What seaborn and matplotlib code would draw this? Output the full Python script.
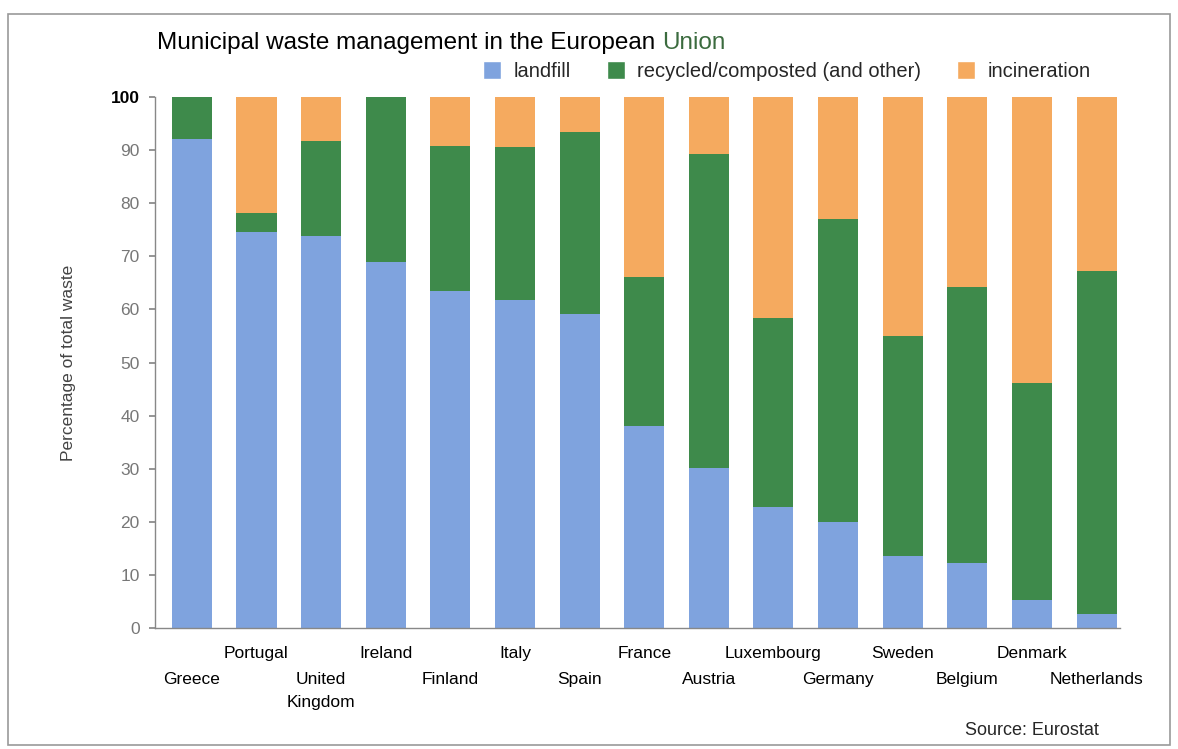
import numpy as np
import pandas as pd
import matplotlib
matplotlib.use("Agg")
import matplotlib.pyplot as plt
from matplotlib.patches import Patch, Rectangle
from matplotlib.transforms import offset_copy
import seaborn as sns

countries = ["Greece", "Portugal", "United\nKingdom", "Ireland", "Finland", "Italy", "Spain",
             "France", "Austria", "Luxembourg", "Germany", "Sweden", "Belgium", "Denmark",
             "Netherlands"]
landfill = [92.0, 74.5, 73.9, 68.9, 63.4, 61.7, 59.2, 38.0, 30.2, 22.8, 19.9, 13.5, 12.2, 5.3, 2.6]
recycled = [8.0, 3.6, 17.8, 31.1, 27.3, 28.8, 34.2, 28.1, 59.0, 35.6, 57.2, 41.4, 52.1, 40.8, 64.7]
incineration = [0.0, 21.9, 8.3, 0.0, 9.3, 9.5, 6.6, 33.9, 10.8, 41.6, 22.9, 45.1, 35.7, 53.9, 32.7]
series_names = ["landfill", "recycled/composted (and other)", "incineration"]
yticks = [0, 10, 20, 30, 40, 50, 60, 70, 80, 90, 100]

c_land = "#7fa3de"
c_rec = "#3e8a4b"
c_inc = "#f5aa5f"

sns.set_theme(style="white")
plt.rcParams["font.family"] = ["Liberation Sans", "DejaVu Sans"]

df = pd.DataFrame({"country": countries, "landfill": landfill,
                   "recycled": recycled, "incineration": incineration})
df["top_rec"] = df["landfill"] + df["recycled"]
df["total"] = df["top_rec"] + df["incineration"]

fig = plt.figure(figsize=(11.78, 7.49), dpi=100)
ax = fig.add_axes([0.1316, 0.1615, 0.819, 0.709])

w = 0.62
kw = dict(width=w, saturation=1, linewidth=0, edgecolor="none", ax=ax)
sns.barplot(data=df, x="country", y="total", color=c_inc, **kw)
sns.barplot(data=df, x="country", y="top_rec", color=c_rec, **kw)
sns.barplot(data=df, x="country", y="landfill", color=c_land, **kw)

n = len(countries)
ax.set_xlim(-0.57, n - 1 + 0.36)
ax.set_ylim(0, 100)
ax.set_yticks(yticks)
ax.set_yticklabels([str(v) for v in yticks], color="#777777", fontsize=12.5)
ax.get_yticklabels()[-1].set_color("black")
ax.get_yticklabels()[-1].set_fontweight("bold")

# upper row (odd index) as tick labels, lower row (even index) as offset texts
ax.set_xticks(range(n))
ax.set_xticklabels([c if i % 2 == 1 else "" for i, c in enumerate(countries)],
                   fontsize=12.5, color="black")
ax.tick_params(axis="x", which="major", length=0, pad=13)
lower_tr = offset_copy(ax.get_xaxis_transform(), fig=fig, x=0, y=-32, units="points")
for i, c in enumerate(countries):
    if i % 2 == 0:
        ax.text(i, 0, c, transform=lower_tr, ha="center", va="top", fontsize=12.5,
                color="black", linespacing=1.6)
ax.set_xticks(np.arange(0.5, n - 1, 1), minor=True)
ax.tick_params(axis="x", which="minor", length=4, color="#888888", direction="out")
ax.tick_params(axis="y", length=4, color="#888888", direction="out", left=True, pad=7)
ax.set_xlabel("")
ax.set_ylabel("Percentage of total waste", fontsize=12.5, color="#444444", labelpad=25)

for s in ["top", "right"]:
    ax.spines[s].set_visible(False)
for s in ["left", "bottom"]:
    ax.spines[s].set_color("#888888")
    ax.spines[s].set_linewidth(1)

title_y = 0.942
t = fig.text(0.1333, title_y, "Municipal waste management in the European ", fontsize=17.5,
             color="black", ha="left", va="center")
fig.canvas.draw()
bb = t.get_window_extent()
fig.text(bb.x1 / fig.bbox.width, title_y, "Union", fontsize=17.5, color="#3b6b3e",
         ha="left", va="center")

handles = [Patch(facecolor=c_land), Patch(facecolor=c_rec), Patch(facecolor=c_inc)]
fig.legend(handles, series_names, loc="center", bbox_to_anchor=(0.668, 0.905), ncol=3,
           frameon=False, fontsize=14.5, handlelength=0.9, handleheight=1.0,
           columnspacing=1.8, handletextpad=0.6)

fig.text(0.933, 0.025, "Source: Eurostat", fontsize=13, ha="right", va="center")

fig.patches.append(Rectangle((0.007, 0.005), 0.986, 0.976, transform=fig.transFigure,
                             fill=False, edgecolor="#999999", linewidth=1.2))

fig.savefig("out.png", dpi=100)
